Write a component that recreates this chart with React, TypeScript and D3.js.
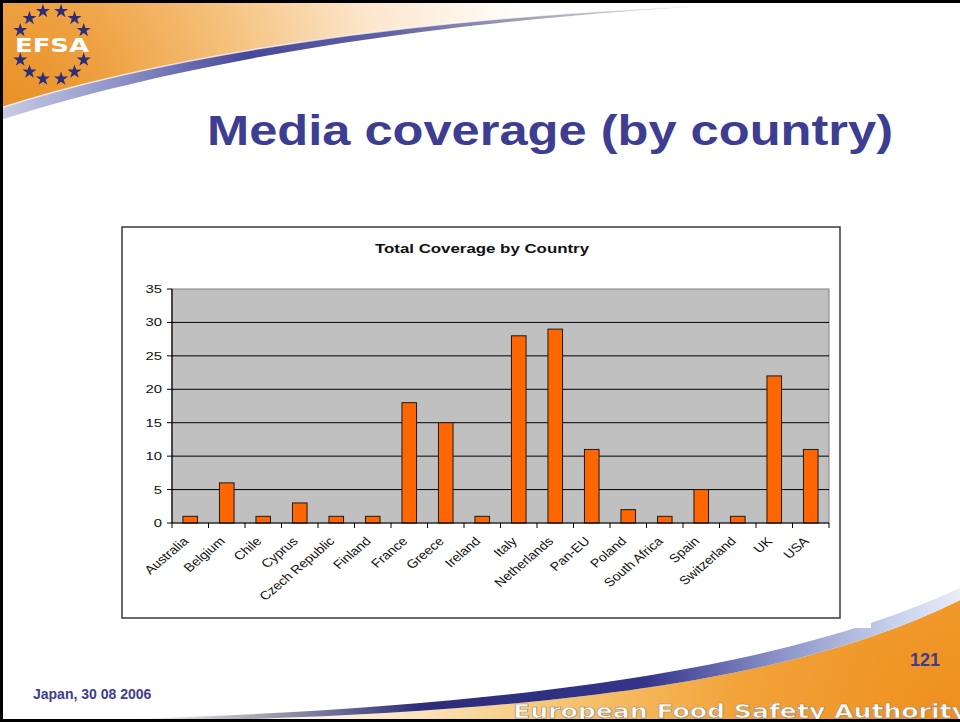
import React from 'react';
import * as d3 from 'd3';

const categories = [
  'Australia', 'Belgium', 'Chile', 'Cyprus', 'Czech Republic', 'Finland', 'France', 'Greece',
  'Ireland', 'Italy', 'Netherlands', 'Pan-EU', 'Poland', 'South Africa', 'Spain', 'Switzerland', 'UK', 'USA',
];
const coverage = [1, 6, 1, 3, 1, 1, 18, 15, 1, 28, 29, 11, 2, 1, 5, 1, 22, 11];
const yTicks = [0, 5, 10, 15, 20, 25, 30, 35];

const slideTitle = 'Media coverage (by country)';
const chartTitle = 'Total Coverage by Country';
const footerDate = 'Japan, 30 08 2006';
const pageNumber = '121';
const footerOrg = 'European Food Safety Authority';

const W = 960;
const H = 722;
const plot = { left: 172, right: 829, top: 289, bottom: 523 };
const SX = 1.35; // horizontal stretch of the pasted chart image
const SXL = 1.18; // stretch applied to rotated labels
const BLUE = '#3d3d91';
const ARIAL = '"Liberation Sans", Arial, sans-serif';

export default function App() {
  const xBand = d3.scaleBand<string>().domain(categories).range([plot.left, plot.right]);
  const xBar = d3
    .scaleBand<string>()
    .domain(categories)
    .range([plot.left, plot.right])
    .paddingInner(0.6)
    .paddingOuter(0.3);
  const y = d3.scaleLinear().domain([0, 35]).range([plot.bottom, plot.top]);

  const tickXs = [...categories.map((c) => xBand(c) as number), plot.right];

  // logo stars: six on the upper arc, six on the lower arc
  const star = d3.symbol().type(d3.symbolStar).size(62)() as string;
  const starDeg = [-65, -40, -15, 15, 40, 65, 115, 140, 165, 195, 220, 245];

  return (
    <svg
      width={W}
      height={H}
      viewBox={`0 0 ${W} ${H}`}
      style={{ position: 'absolute', left: 0, top: 0, display: 'block' }}
    >
      <defs>
        <radialGradient id="orangeTop" gradientUnits="userSpaceOnUse" cx={0} cy={110} r={540}>
          <stop offset="0" stopColor="#e98f24" />
          <stop offset="0.2" stopColor="#eea040" />
          <stop offset="0.45" stopColor="#f5c27e" />
          <stop offset="0.7" stopColor="#fce6cc" />
          <stop offset="1" stopColor="#ffffff" />
        </radialGradient>
        <linearGradient id="blueTop" gradientUnits="userSpaceOnUse" x1={0} y1={0} x2={770} y2={0}>
          <stop offset="0" stopColor="#c9cde6" />
          <stop offset="0.15" stopColor="#8e94c8" />
          <stop offset="0.32" stopColor="#48489a" />
          <stop offset="0.5" stopColor="#6060a4" />
          <stop offset="0.68" stopColor="#a0a0b4" />
          <stop offset="0.86" stopColor="#dcdce0" />
          <stop offset="1" stopColor="#ffffff" />
        </linearGradient>
        <radialGradient id="orangeBot" gradientUnits="userSpaceOnUse" cx={960} cy={722} r={720}>
          <stop offset="0" stopColor="#ee8e1c" />
          <stop offset="0.3" stopColor="#f2a238" />
          <stop offset="0.55" stopColor="#f6c470" />
          <stop offset="0.75" stopColor="#fbe2b8" />
          <stop offset="1" stopColor="#ffffff" />
        </radialGradient>
        <linearGradient id="blueBot" gradientUnits="userSpaceOnUse" x1={130} y1={0} x2={960} y2={0}>
          <stop offset="0" stopColor="#ffffff" />
          <stop offset="0.15" stopColor="#a8a8b4" />
          <stop offset="0.35" stopColor="#2c2c7a" />
          <stop offset="0.62" stopColor="#34348a" />
          <stop offset="0.78" stopColor="#8a92c8" />
          <stop offset="0.92" stopColor="#c8d0ec" />
          <stop offset="1" stopColor="#e8ecf8" />
        </linearGradient>
      </defs>

      <rect x={0} y={0} width={W} height={H} fill="#ffffff" />

      {/* top decoration */}
      <path d="M0,0 L780,0 L770,3 C400,15 150,60 0,108 Z" fill="url(#orangeTop)" />
      <path d="M0,108 C150,60 400,15 770,3 C400,19 150,72 0,120 Z" fill="url(#blueTop)" />
      <path d="M0,108 C150,60 400,15 770,3" fill="none" stroke="#ffffff" strokeWidth={1.5} opacity={0.7} />

      {/* logo */}
      <g transform="translate(52,45)">
        {starDeg.map((deg, i) => {
          const a = (deg * Math.PI) / 180;
          return (
            <path
              key={i}
              d={star}
              transform={`translate(${Math.sin(a) * 35},${-Math.cos(a) * 35})`}
              fill="#2d2d78"
            />
          );
        })}
        <text
          x={-37}
          y={7}
          textLength={74}
          lengthAdjust="spacingAndGlyphs"
          fontFamily='"DejaVu Sans", sans-serif'
          fontWeight="bold"
          fontSize={19}
          fill="#ffffff"
        >
          EFSA
        </text>
      </g>

      {/* bottom decoration */}
      <path d="M130,722 C550,715 800,680 960,600 L960,722 Z" fill="url(#orangeBot)" />
      <path d="M130,722 C550,715 800,680 960,600 L960,588 C800,662 550,706 130,719 Z" fill="url(#blueBot)" />

      {/* white patch behind chart */}
      <rect x={90} y={190} width={781} height={438} fill="#ffffff" />

      {/* slide title */}
      <text
        x={207}
        y={145}
        textLength={686}
        lengthAdjust="spacingAndGlyphs"
        fontFamily={ARIAL}
        fontWeight="bold"
        fontSize={43}
        fill={BLUE}
      >
        {slideTitle}
      </text>

      {/* chart frame */}
      <rect x={122} y={227} width={718} height={391} fill="#ffffff" stroke="#3a3a3a" strokeWidth={1.5} />

      <text
        transform={`translate(482,253) scale(${SX},1)`}
        textAnchor="middle"
        fontFamily={ARIAL}
        fontWeight="bold"
        fontSize={12.5}
        fill="#111"
      >
        {chartTitle}
      </text>

      {/* plot area */}
      <rect
        x={plot.left}
        y={plot.top}
        width={plot.right - plot.left}
        height={plot.bottom - plot.top}
        fill="#c0c0c0"
        stroke="#808080"
        strokeWidth={1}
      />
      {yTicks
        .filter((t) => t > 0 && t < 35)
        .map((t) => (
          <line key={t} x1={plot.left} x2={plot.right} y1={y(t)} y2={y(t)} stroke="#000" strokeWidth={1} />
        ))}

      {/* bars */}
      {categories.map((c, i) => (
        <rect
          key={c}
          x={xBar(c)}
          y={y(coverage[i])}
          width={xBar.bandwidth()}
          height={y(0) - y(coverage[i])}
          fill="#ff6600"
          stroke="#1a1a1a"
          strokeWidth={1}
        />
      ))}

      {/* axes */}
      <line x1={plot.left} x2={plot.left} y1={plot.top} y2={plot.bottom} stroke="#000" strokeWidth={1.2} />
      <line x1={plot.left} x2={plot.right} y1={plot.bottom} y2={plot.bottom} stroke="#000" strokeWidth={1.2} />
      {yTicks.map((t) => (
        <g key={t}>
          <line x1={plot.left - 5} x2={plot.left} y1={y(t)} y2={y(t)} stroke="#000" strokeWidth={1} />
          <text
            transform={`translate(162,${y(t) + 4}) scale(${SX},1)`}
            textAnchor="end"
            fontFamily={ARIAL}
            fontSize={11}
            fill="#111"
          >
            {t}
          </text>
        </g>
      ))}
      {tickXs.map((tx, i) => (
        <line key={i} x1={tx} x2={tx} y1={plot.bottom} y2={plot.bottom + 5} stroke="#000" strokeWidth={1} />
      ))}
      {categories.map((c) => (
        <text
          key={c}
          transform={`translate(${(xBand(c) as number) + xBand.bandwidth() / 2 - 1},542) scale(${SXL},1) rotate(-45)`}
          textAnchor="end"
          fontFamily={ARIAL}
          fontSize={12}
          fill="#111"
        >
          {c}
        </text>
      ))}

      {/* footer */}
      <text x={910} y={666} fontFamily={ARIAL} fontWeight="bold" fontSize={18} fill={BLUE}>
        {pageNumber}
      </text>
      <text x={33} y={699} fontFamily={ARIAL} fontWeight="bold" fontSize={14} fill={BLUE}>
        {footerDate}
      </text>
      <text
        x={513}
        y={718}
        textLength={455}
        lengthAdjust="spacingAndGlyphs"
        fontFamily='"DejaVu Sans", sans-serif'
        fontWeight="bold"
        fontSize={20}
        fill="#fffaf0"
        stroke="#9a8a78"
        strokeWidth={0.6}
      >
        {footerOrg}
      </text>

      {/* slide border */}
      <line x1={0} x2={W} y1={1.5} y2={1.5} stroke="#000" strokeWidth={3} />
      <line x1={1.5} x2={1.5} y1={0} y2={H} stroke="#000" strokeWidth={3} />
      <line x1={0} x2={W} y1={H - 1.5} y2={H - 1.5} stroke="#000" strokeWidth={3} />
    </svg>
  );
}
